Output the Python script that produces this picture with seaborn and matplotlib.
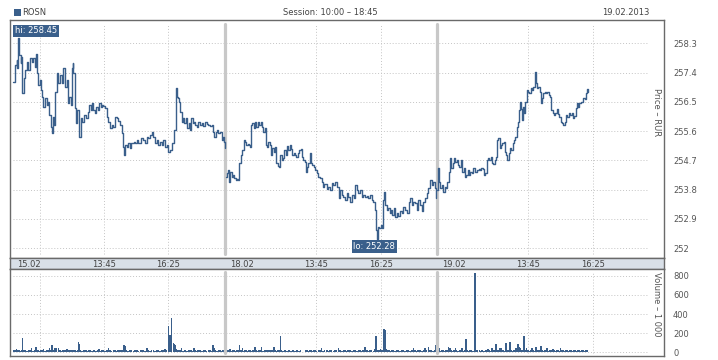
import seaborn as sns
import matplotlib.pyplot as plt
import matplotlib.patches as patches
import pandas as pd

# ROSN intraday, three sessions, minutes counted from 10:00 (session is 10:00-18:45 = 525 min)
days = ['15.02', '18.02', '19.02']
session_len = 525

t_1502 = [2, 6, 10, 12, 14, 17, 20, 22, 24, 27, 31, 35, 39, 43, 47, 51, 55, 58, 61, 64,
          68, 70, 73, 76, 80, 84, 88, 91, 94, 97, 99, 102, 105, 109, 113, 117, 121, 125, 130, 134,
          138, 140, 144, 146, 149, 150, 154, 157, 160, 163, 165, 168, 172, 177, 181, 186, 189, 193, 196, 200,
          203, 206, 210, 214, 218, 221, 224, 228, 233, 237, 241, 245, 249, 253, 257, 261, 266, 270, 272, 275,
          278, 282, 286, 290, 294, 299, 303, 307, 311, 317, 322, 327, 332, 336, 340, 344, 348, 352, 356, 360,
          365, 369, 373, 377, 381, 385, 389, 393, 398, 400, 403, 404, 407, 410, 412, 415, 418, 421, 425, 428,
          431, 435, 438, 441, 445, 448, 451, 455, 459, 463, 468, 472, 476, 480, 484, 488, 492, 496, 499, 502,
          506, 509, 513, 517, 520, 522, 525]
p_1502 = [257.12, 257.63, 257.79, 257.54, 258.45, 257.94, 257.69, 257.89, 256.76, 257.22,
          257.48, 257.73, 257.48, 257.84, 257.73, 257.84, 257.58, 257.97, 257.38, 257.02,
          257.17, 256.86, 256.66, 256.35, 256.61, 256.40, 256.51, 256.10, 255.74, 255.53,
          256.04, 255.79, 256.81, 257.38, 257.07, 257.33, 257.07, 257.53, 256.97, 257.17,
          256.46, 256.66, 256.40, 257.53, 257.69, 257.38, 256.30, 255.84, 256.25, 255.99,
          255.43, 255.99, 255.89, 256.10, 256.00, 256.20, 256.40, 256.25, 256.46, 256.25,
          256.15, 256.35, 256.25, 256.47, 256.35, 256.40, 256.38, 256.30, 256.04, 255.89,
          255.69, 255.79, 255.74, 256.02, 256.00, 255.92, 255.79, 255.53, 255.12, 254.87,
          255.17, 255.12, 255.23, 255.07, 255.23, 255.28, 255.23, 255.33, 255.23, 255.38,
          255.33, 255.23, 255.43, 255.38, 255.48, 255.58, 255.43, 255.25, 255.33, 255.17,
          255.28, 255.17, 255.33, 255.12, 255.17, 254.97, 255.02, 255.23, 255.33, 255.64,
          256.86, 256.92, 256.66, 256.61, 256.51, 256.20, 255.89, 256.00, 255.84, 256.00,
          255.69, 255.84, 255.64, 256.00, 255.84, 255.89, 255.79, 255.74, 255.87, 255.79,
          255.84, 255.76, 255.89, 255.82, 255.79, 255.76, 255.79, 255.58, 255.43, 255.58,
          255.64, 255.53, 255.58, 255.33, 255.43, 255.28, 255.07]
v_1502 = [25, 20, 30, 15, 20, 25, 15, 20, 153, 25,
          20, 15, 25, 20, 50, 15, 20, 55, 25, 20,
          15, 25, 20, 30, 15, 20, 25, 40, 20, 76,
          25, 20, 40, 50, 45, 20, 15, 25, 20, 30,
          15, 20, 25, 20, 15, 20, 25, 15, 20, 104,
          90, 20, 15, 25, 20, 15, 20, 25, 15, 20,
          25, 15, 20, 30, 15, 20, 25, 15, 20, 45,
          20, 15, 25, 20, 15, 20, 25, 20, 15, 76,
          70, 20, 15, 25, 20, 15, 20, 25, 15, 20,
          25, 15, 45, 20, 15, 25, 20, 15, 20, 25,
          15, 20, 25, 30, 20, 275, 181, 355, 101, 90,
          76, 30, 25, 20, 25, 20, 40, 15, 20, 25,
          15, 20, 25, 20, 15, 40, 20, 15, 25, 20,
          15, 20, 25, 15, 20, 25, 15, 76, 45, 20,
          15, 25, 20, 15, 20, 25, 40]

t_1802 = [2, 5, 8, 11, 13, 17, 20, 23, 27, 30, 33, 36, 40, 43, 46, 50, 53, 56, 60, 63,
          65, 68, 71, 75, 78, 81, 84, 88, 91, 94, 98, 101, 104, 107, 111, 114, 117, 121, 124, 127,
          131, 134, 137, 140, 144, 147, 150, 154, 157, 160, 164, 167, 170, 173, 177, 180, 183, 187, 190, 193,
          197, 200, 203, 206, 210, 213, 216, 220, 223, 227, 231, 235, 239, 243, 246, 252, 256, 260, 264, 268,
          272, 276, 281, 285, 289, 293, 297, 301, 305, 309, 314, 318, 322, 326, 330, 334, 338, 342, 346, 351,
          355, 359, 363, 367, 370, 373, 375, 379, 382, 385, 389, 392, 394, 397, 400, 403, 407, 410, 413, 417,
          421, 425, 429, 433, 437, 441, 445, 450, 454, 458, 462, 466, 470, 474, 478, 483, 487, 491, 495, 499,
          503, 507, 511, 515, 520, 522]
p_1802 = [254.20, 254.30, 254.41, 254.05, 254.35, 254.20, 254.25, 254.15, 254.10, 254.12,
          254.10, 254.61, 254.87, 255.02, 255.33, 255.28, 255.17, 255.20, 255.17, 255.10,
          255.79, 255.84, 255.69, 255.89, 255.74, 255.87, 255.79, 255.89, 255.74, 255.58,
          255.69, 255.17, 255.12, 255.28, 255.17, 254.87, 255.07, 254.97, 255.10, 254.61,
          254.53, 254.51, 254.87, 254.71, 254.76, 255.02, 254.87, 255.15, 255.02, 255.17,
          255.04, 254.87, 254.94, 254.87, 254.82, 254.92, 255.02, 255.04, 254.82, 254.71,
          254.66, 254.35, 254.51, 254.61, 254.92, 254.61, 254.56, 254.51, 254.41, 254.30,
          254.20, 254.15, 254.05, 253.89, 253.97, 253.81, 253.89, 253.79, 254.00, 253.94,
          254.05, 253.89, 253.54, 253.79, 253.64, 253.59, 253.48, 253.69, 253.59, 253.43,
          253.64, 253.54, 253.94, 253.79, 253.69, 253.79, 253.56, 253.64, 253.56, 253.61,
          253.54, 253.64, 253.48, 253.43, 253.18, 252.56, 252.28, 252.66, 252.61, 252.72,
          252.61, 253.48, 253.74, 253.33, 253.18, 253.23, 253.08, 253.18, 253.02, 253.23,
          252.97, 253.08, 253.00, 253.13, 253.08, 253.28, 253.18, 253.08, 253.43, 253.54,
          253.33, 253.43, 253.38, 253.18, 253.48, 253.33, 253.13, 253.43, 253.54, 253.69,
          253.84, 254.10, 253.94, 254.05, 253.84, 253.54]
v_1802 = [20, 15, 25, 20, 35, 15, 20, 25, 15, 20,
          25, 76, 20, 50, 15, 20, 25, 15, 20, 25,
          15, 20, 25, 55, 20, 15, 25, 20, 55, 15,
          20, 25, 15, 20, 25, 15, 20, 55, 20, 15,
          25, 20, 170, 25, 15, 20, 25, 15, 20, 25,
          15, 20, 25, 15, 20, 25, 15, 20, 0, 0,
          0, 20, 25, 15, 20, 25, 15, 20, 25, 15,
          20, 25, 50, 15, 20, 25, 15, 20, 25, 15,
          20, 25, 45, 20, 15, 25, 20, 15, 25, 20,
          15, 25, 20, 15, 25, 20, 15, 25, 55, 20,
          15, 25, 20, 15, 30, 175, 35, 25, 20, 30,
          25, 213, 245, 235, 30, 25, 20, 15, 25, 20,
          15, 25, 20, 15, 25, 20, 15, 25, 20, 15,
          25, 45, 20, 15, 25, 20, 15, 25, 40, 20,
          55, 25, 20, 15, 25, 76]

t_1902 = [0, 3, 5, 8, 12, 15, 19, 22, 25, 28, 32, 35, 38, 42, 45, 48, 51, 55, 58, 61,
          65, 68, 71, 75, 78, 81, 85, 89, 93, 98, 104, 106, 109, 112, 116, 119, 122, 126, 129, 132,
          136, 139, 142, 145, 147, 150, 154, 157, 160, 164, 167, 170, 173, 177, 180, 183, 187, 190, 193, 197,
          200, 203, 205, 206, 210, 211, 215, 217, 220, 221, 225, 228, 231, 234, 238, 241, 244, 246, 249, 253,
          256, 259, 262, 266, 269, 272, 276, 279, 282, 286, 289, 292, 295, 299, 302, 305, 309, 312, 315, 319,
          322, 325, 328, 332, 335, 338, 342, 345, 348, 351, 355, 358, 361, 365, 368, 370, 372]
p_1902 = [253.79, 254.46, 254.05, 253.84, 253.94, 253.74, 253.89, 253.84, 254.05, 254.35,
          254.77, 254.46, 254.61, 254.77, 254.66, 254.71, 254.56, 254.51, 254.71, 254.35,
          254.46, 254.20, 254.25, 254.41, 254.25, 254.35, 254.30, 254.46, 254.35, 254.41,
          254.43, 254.41, 254.46, 254.43, 254.25, 254.30, 254.71, 254.76, 254.71, 254.79,
          254.61, 254.59, 254.71, 254.82, 255.33, 255.38, 255.07, 255.17, 255.23, 255.28,
          254.97, 254.87, 254.71, 254.92, 255.07, 255.02, 255.23, 255.33, 255.43, 255.74,
          255.89, 256.25, 256.48, 256.28, 255.94, 256.35, 256.15, 256.51, 256.48, 256.86,
          256.81, 256.76, 256.92, 256.86, 256.97, 257.43, 257.07, 256.92, 256.97, 256.81,
          256.46, 256.61, 256.76, 256.81, 256.76, 256.81, 256.71, 256.66, 256.25, 256.15,
          256.10, 256.15, 256.28, 256.13, 256.04, 255.89, 255.84, 255.79, 255.89, 256.10,
          256.04, 256.15, 256.10, 256.15, 256.00, 256.07, 256.30, 256.46, 256.35, 256.46,
          256.48, 256.51, 256.61, 256.58, 256.76, 256.89, 256.79]
v_1902 = [25, 20, 45, 15, 20, 25, 15, 20, 25, 55,
          50, 20, 15, 25, 40, 20, 15, 25, 20, 50,
          15, 25, 139, 20, 15, 25, 20, 15, 825, 20,
          25, 15, 20, 25, 15, 20, 25, 35, 20, 15,
          50, 25, 20, 87, 15, 25, 40, 45, 20, 25,
          15, 97, 20, 25, 104, 20, 15, 25, 40, 50,
          83, 55, 20, 45, 25, 15, 166, 20, 25, 50,
          20, 15, 25, 45, 20, 15, 55, 40, 20, 25,
          65, 20, 15, 25, 20, 50, 15, 20, 25, 35,
          20, 15, 25, 20, 15, 50, 20, 25, 15, 20,
          25, 15, 20, 25, 15, 20, 25, 15, 20, 25,
          15, 20, 25, 15, 20, 25, 15]

price_ticks = [252, 252.9, 253.8, 254.7, 255.6, 256.5, 257.4, 258.3]
volume_ticks = [0, 200, 400, 600, 800]
grid_minutes = [67, 225, 385]          # per session
time_labels = [(225, '13:45'), (385, '16:25')]

frames = []
for i, (t, p, v) in enumerate([(t_1502, p_1502, v_1502), (t_1802, p_1802, v_1802), (t_1902, p_1902, v_1902)]):
    frames.append(pd.DataFrame({'day': days[i], 'x': [i * session_len + m for m in t], 'price': p, 'volume': v}))
df = pd.concat(frames, ignore_index=True)

blue = '#3a5f8b'
grid_c = '#c4c4c4'
frame_c = '#6a6a6a'
sep_c = '#c8c8c8'
txt_c = '#555555'

sns.set_style('white')
plt.rcParams['font.family'] = ['DejaVu Sans']
plt.rcParams['font.size'] = 6

W, H = 718, 360
fig = plt.figure(figsize=(W / 100, H / 100), dpi=100)
ax = fig.add_axes([10 / W, 1 - 258 / H, 654 / W, 238 / H])
strip = fig.add_axes([10 / W, 1 - 269 / H, 654 / W, 11 / H])
axv = fig.add_axes([10 / W, 1 - 356 / H, 654 / W, 87 / H])

xlim = (-6.4, 1610.7)
grid_end = 1571
all_grid = [i * session_len + g for i in range(3) for g in grid_minutes if not (i > 0 and g == 67)]
dots = (0, (1, 2))

# price panel
for d in days:
    sns.lineplot(data=df[df['day'] == d], x='x', y='price', ax=ax, color=blue, lw=1.0,
                 drawstyle='steps-post', estimator=None)
ax.set_xlim(*xlim)
ax.set_ylim(251.70, 259.016)
ax.hlines(price_ticks, 0, grid_end, colors=grid_c, linestyles=dots, lw=0.7, zorder=0)
for g in all_grid:
    ax.axvline(g, ymin=0.017, ymax=0.983, color=grid_c, ls=dots, lw=0.7, zorder=0)
for s in [session_len, 2 * session_len]:
    ax.axvline(s, ymin=0.017, ymax=0.983, color=sep_c, lw=2.3, zorder=1)

hi = df.loc[df['price'].idxmax()]
lo = df.loc[df['price'].idxmin()]
box = dict(boxstyle='square,pad=0.2', fc=blue, ec='none')
ax.annotate(f"hi: {hi['price']:.2f}", xy=(hi['x'], hi['price']), xytext=(-2.3, 2.2),
            textcoords='offset points', ha='left', va='bottom', color='white', fontsize=6, bbox=box)
ax.annotate(f"lo: {lo['price']:.2f}", xy=(lo['x'], lo['price']), xytext=(-1.6, -2.0),
            textcoords='offset points', ha='center', va='top', color='white', fontsize=6, bbox=box)

ax.set_yticks(price_ticks)
ax.set_yticklabels([f'{v:g}' for v in price_ticks])
ax.set_xticks([])

# volume panel
axv.bar(df['x'], df['volume'], width=3.8, color=blue, linewidth=0)
axv.set_xlim(*xlim)
axv.set_ylim(-38.6, 870)
axv.hlines(volume_ticks, 0, grid_end, colors=grid_c, linestyles=dots, lw=0.7, zorder=0)
for g in all_grid:
    axv.axvline(g, ymin=0.03, ymax=0.97, color=grid_c, ls=dots, lw=0.7, zorder=0)
for s in [session_len, 2 * session_len]:
    axv.axvline(s, ymin=0.04, ymax=0.97, color=sep_c, lw=2.3, zorder=1)
axv.set_yticks(volume_ticks)
axv.set_xticks([])

for a in (ax, axv):
    a.set_xlabel('')
    a.set_ylabel('')
    a.yaxis.tick_right()
    a.tick_params(axis='y', length=0, pad=6.5, labelsize=6, labelcolor=txt_c)

# date strip between the panels
strip.set_facecolor('#d9e0e8')
strip.set_xlim(*xlim)
strip.set_ylim(0, 1)
strip.set_xticks([])
strip.set_yticks([])
for i, d in enumerate(days):
    strip.text(i * session_len + 12, 0.45, d, ha='left', va='center', fontsize=6, color='#444444')
    for m, lab in time_labels:
        strip.text(i * session_len + m, 0.45, lab, ha='center', va='center', fontsize=6, color='#444444')

for a in (ax, strip, axv):
    for sp in a.spines.values():
        sp.set_color(frame_c)
        sp.set_linewidth(1.0)
        sp.set_visible(True)

# header and axis titles
fig.patches.append(patches.Rectangle((14 / W, 1 - 15.7 / H), 6.5 / W, 6.7 / H,
                                     transform=fig.transFigure, fc=blue, ec='none'))
fig.text(22 / W, 1 - 12.3 / H, 'ROSN', ha='left', va='center', fontsize=6, color='#444444')
fig.text(330 / W, 1 - 12.3 / H, 'Session: 10:00 – 18:45', ha='center', va='center', fontsize=6, color='#444444')
fig.text(649 / W, 1 - 12.3 / H, '19.02.2013', ha='right', va='center', fontsize=6, color='#444444')
fig.text(656 / W, 1 - 88 / H, 'Price – RUR', rotation=270, ha='center', va='top', fontsize=6, color=txt_c)
fig.text(656 / W, 1 - 272 / H, 'Volume – 1 000', rotation=270, ha='center', va='top', fontsize=6, color=txt_c)

fig.savefig('out.png', dpi=100, facecolor='white')
